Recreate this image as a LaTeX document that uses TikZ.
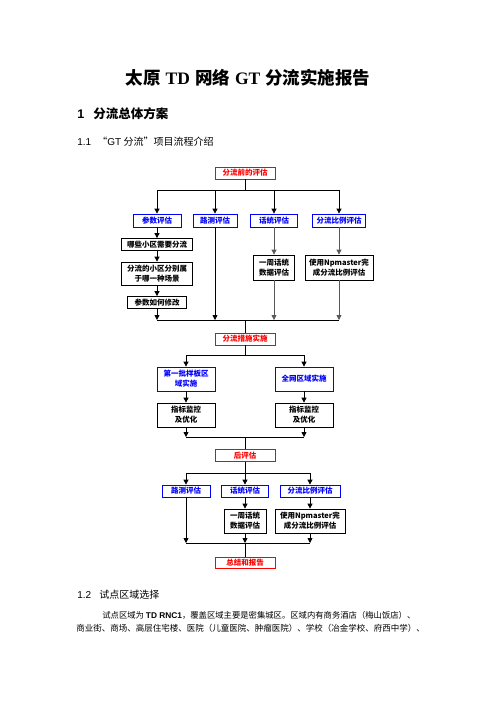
\documentclass[tikz,border=0pt]{standalone}
\usepackage{fontspec}
\setmainfont{Liberation Serif}
\setsansfont{Liberation Sans}
\newfontfamily\cjk{Noto Sans CJK SC}
\usetikzlibrary{arrows.meta}

\begin{document}
\begin{tikzpicture}[x=1.2pt, y=-1.2pt, % one unit = one pixel of the page, y downwards
	> = {Triangle[length=6pt,width=6pt]}, % arrow head style
	line width=0.9pt, % line style
	every node/.style={font=\cjk\bfseries\fontsize{9}{12}\selectfont,align=center,inner sep=0pt},
	stagebox/.style={draw=red,text=red,minimum width=72pt,minimum height=14.4pt},
	evalbox/.style={draw=blue,text=blue,minimum height=15.6pt},
	taskbox/.style={draw=black,minimum height=14.4pt},
	greyline/.style={draw=black!65}]
	\useasboundingbox (0,0) rectangle (496,702);

	% page text
	\node (title) at (248,78) {\fontsize{21}{26}\selectfont 太原\hspace{6pt}{\rmfamily\bfseries TD}\hspace{6pt}网络\hspace{6pt}{\rmfamily\bfseries GT}\hspace{6pt}分流实施报告};
	\node[anchor=west] (h1no) at (77,114) {\fontsize{15}{18}\selectfont\sffamily\bfseries 1};
	\node[anchor=west] (h1) at (93,114) {\fontsize{15}{18}\selectfont 分流总体方案};
	\node[anchor=west,font=\sffamily\fontsize{12}{14}\selectfont] (h11no) at (77,142) {1.1};
	\node[anchor=west,font=\cjk\fontsize{12}{14}\selectfont] (h11) at (97,142) {“{\sffamily GT} 分流”项目流程介绍};
	\node[anchor=west,font=\sffamily\fontsize{12}{14}\selectfont] (h12no) at (77,595) {1.2};
	\node[anchor=west,font=\cjk\fontsize{12}{14}\selectfont] (h12) at (99,595) {试点区域选择};
	\node[anchor=west,font=\cjk\fontsize{10}{12}\selectfont] (par1) at (102,615) {试点区域为 {\sffamily\bfseries TD RNC1}，覆盖区域主要是密集城区。区域内有商务酒店（梅山饭店）、};
	\node[anchor=west,font=\cjk\fontsize{10.2}{12}\selectfont] (par2) at (76,628) {商业街、商场、高层住宅楼、医院（儿童医院、肿瘤医院）、学校（冶金学校、府西中学）、};

	% before
	\node[stagebox] (pre) at (245,173) {分流前的评估};
	\node[evalbox,minimum width=57.6pt] (cs) at (157,220.5) {参数评估};
	\node[evalbox,minimum width=52.8pt] (lc) at (215,220.5) {路测评估};
	\node[evalbox,minimum width=56.4pt] (ht) at (274,220.5) {话统评估};
	\node[evalbox,minimum width=63.6pt] (fl) at (339,220.5) {分流比例评估};
	\node[taskbox,minimum width=85.2pt] (q1) at (157,244.5) {哪些小区需要分流};
	\node[taskbox,minimum width=85.2pt,minimum height=27.6pt] (q2) at (157,273.5) {分流的小区分别属\\于哪一种场景};
	\node[taskbox,minimum width=70.8pt] (q3) at (157,302.5) {参数如何修改};
	\node[taskbox,minimum width=49.2pt,minimum height=30pt] (hd) at (274,267.5) {一周话统\\数据评估};
	\node[taskbox,minimum width=81.6pt,minimum height=30pt] (np) at (339,267.5) {使用Npmaster完\\成分流比例评估};
	\coordinate (b1) at (245,190.5);
	\coordinate (b2) at (245,320);
	\draw (pre) -- (b1);
	\foreach \n in {cs,lc,ht,fl}
		\draw[->] (b1) -| (\n);
	\draw[->] (cs) -- (q1);
	\draw[->] (q1) -- (q2);
	\draw[->] (q2) -- (q3);
	\draw[->,greyline] (ht) -- (hd);
	\draw[->,greyline] (fl) -- (np);
	\draw[->] (q3) -- (q3 |- b2);
	\draw[->] (lc) -- (lc |- b2);
	\draw[->,greyline] (hd) -- (hd |- b2);
	\draw[->,greyline] (np) -- (np |- b2);
	\draw (q3 |- b2) -- (np |- b2);

	% rollout
	\node[stagebox] (sp) at (245,339) {分流措施实施};
	\node[evalbox,minimum width=69.6pt,minimum height=28.8pt] (d1) at (186,379) {第一批样板区\\域实施};
	\node[evalbox,minimum width=69.6pt,minimum height=28.8pt] (d2) at (304,379) {全网区域实施};
	\node[taskbox,minimum width=69.6pt,minimum height=28.8pt] (m1) at (186,415) {指标监控\\及优化};
	\node[taskbox,minimum width=69.6pt,minimum height=28.8pt] (m2) at (304,415) {指标监控\\及优化};
	\coordinate (b3) at (245,355);
	\coordinate (b4) at (245,437);
	\draw (b2) -- (sp);
	\draw (sp) -- (b3);
	\draw[->] (b3) -| (d1);
	\draw[->] (b3) -| (d2);
	\draw[->] (d1) -- (m1);
	\draw[->] (d2) -- (m2);
	\draw[->] (m1) -- (m1 |- b4);
	\draw[->] (m2) -- (m2 |- b4);
	\draw (m1 |- b4) -- (m2 |- b4);

	% after
	\node[stagebox] (hp) at (245,455.5) {后评估};
	\node[evalbox,minimum width=57.6pt,minimum height=14.4pt] (r1) at (186,491) {路测评估};
	\node[evalbox,minimum width=56.4pt,minimum height=14.4pt] (r2) at (245,491) {话统评估};
	\node[evalbox,minimum width=72pt,minimum height=14.4pt] (r3) at (310,491) {分流比例评估};
	\node[taskbox,minimum width=50.4pt,minimum height=28.8pt] (r4) at (245,521) {一周话统\\数据评估};
	\node[taskbox,minimum width=84pt,minimum height=28.8pt] (r5) at (310,521) {使用Npmaster完\\成分流比例评估};
	\node[stagebox,minimum height=13.2pt] (zj) at (245,562.5) {总结和报告};
	\coordinate (b5) at (245,473);
	\coordinate (b6) at (245,543);
	\draw (b4) -- (hp);
	\draw (hp) -- (b5);
	\foreach \n in {r1,r2,r3}
		\draw[->] (b5) -| (\n);
	\draw[->] (r2) -- (r4);
	\draw[->] (r3) -- (r5);
	\draw[->] (r1) -- (r1 |- b6);
	\draw[->] (r4) -- (r4 |- b6);
	\draw[->] (r5) -- (r5 |- b6);
	\draw (r1 |- b6) -- (r5 |- b6);
	\draw (b6) -- (zj);
\end{tikzpicture}
\end{document}
